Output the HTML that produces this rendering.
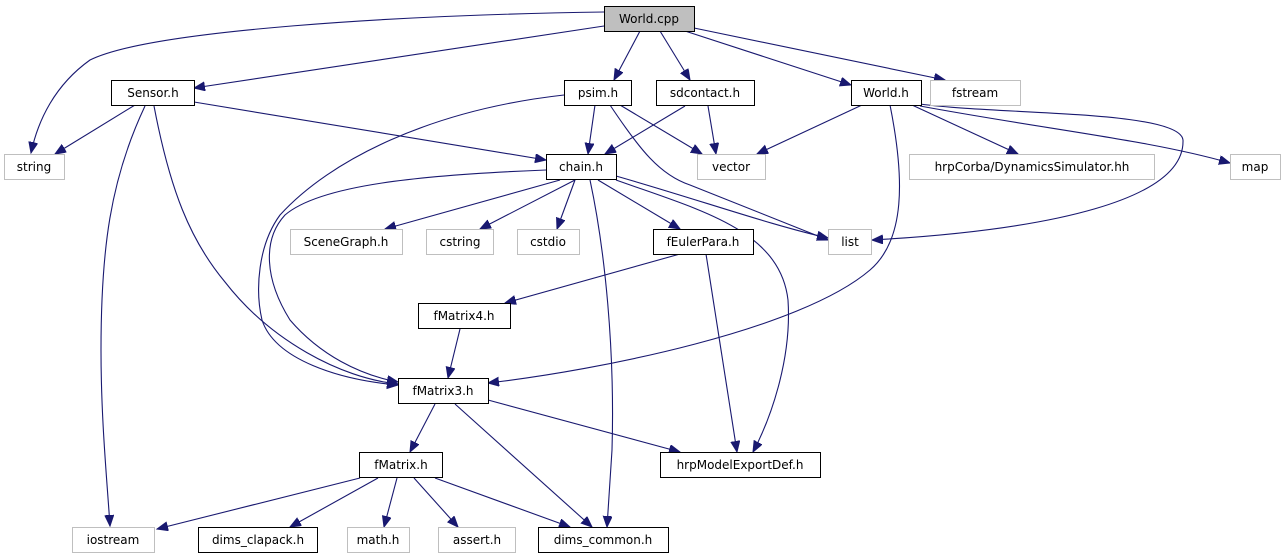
<!DOCTYPE html>
<html><head><meta charset="utf-8"><style>
html,body{margin:0;padding:0;background:#fff;}
svg{display:block;}
text{font-family:"DejaVu Sans","Liberation Sans",sans-serif;font-size:12px;fill:#000;text-anchor:middle;}
.b{fill:#fff;stroke:#000;stroke-width:1}
.g{fill:#fff;stroke:#bfbfbf;stroke-width:1}
.e{fill:none;stroke:#191970;stroke-width:1.1;marker-end:url(#a)}
</style></head><body>
<svg width="1287" height="560" viewBox="0 0 1287 560" xmlns="http://www.w3.org/2000/svg">
<defs><marker id="a" markerUnits="userSpaceOnUse" markerWidth="12" markerHeight="10" refX="11" refY="4.5" orient="auto"><path d="M0,0 L11,4.5 L0,9 z" fill="#191970" stroke="#191970"/></marker></defs>
<g>
<path class="e" d="M604,12 C400,15 150,30 90,60 C55,85 38,120 31,153"/>
<path class="e" d="M604,26 L194,88"/>
<path class="e" d="M640,31 L614,80"/>
<path class="e" d="M660,31 L690,80"/>
<path class="e" d="M685,31 L851,85"/>
<path class="e" d="M694,28 L945,80"/>
<path class="e" d="M135,105 L55,154"/>
<path class="e" d="M194,102 L546,160"/>
<path class="e" d="M145,106 C110,180 101,250 101,350 C101,420 107,480 110,526"/>
<path class="e" d="M154,106 C170,190 190,240 225,282 C270,340 340,378 398,384"/>
<path class="e" d="M595,105 L588,154"/>
<path class="e" d="M620,105 L702,154"/>
<path class="e" d="M610,105 C640,150 660,175 690,185 C740,205 790,225 828,240"/>
<path class="e" d="M564,95 C430,110 330,160 280,215 C258,245 255,290 262,320 C275,360 340,380 398,385"/>
<path class="e" d="M685,106 L605,154"/>
<path class="e" d="M708,106 L716,154"/>
<path class="e" d="M546,170 C420,175 320,185 285,215 C262,240 265,280 290,320 C320,355 360,375 398,382"/>
<path class="e" d="M560,180 L385,229"/>
<path class="e" d="M575,180 L480,229"/>
<path class="e" d="M575,180 L557,229"/>
<path class="e" d="M598,180 L680,229"/>
<path class="e" d="M616,176 C700,200 770,225 828,238"/>
<path class="e" d="M616,180 C700,210 780,230 788,300 C792,360 770,420 753,452"/>
<path class="e" d="M590,180 C605,250 615,350 612,450 L607,527"/>
<path class="e" d="M680,254 L505,303"/>
<path class="e" d="M706,254 L737,452"/>
<path class="e" d="M460,329 L448,378"/>
<path class="e" d="M862,105 L757,154"/>
<path class="e" d="M912,105 L1018,154"/>
<path class="e" d="M920,106 C1050,130 1150,140 1230,163"/>
<path class="e" d="M920,104 C1000,115 1180,110 1183,140 C1185,200 1050,230 872,240"/>
<path class="e" d="M890,105 C905,180 905,240 870,270 C800,330 600,370 488,383"/>
<path class="e" d="M435,404 L410,452"/>
<path class="e" d="M455,404 L592,527"/>
<path class="e" d="M488,400 L680,452"/>
<path class="e" d="M360,478 L157,529"/>
<path class="e" d="M378,478 L290,527"/>
<path class="e" d="M397,478 L384,527"/>
<path class="e" d="M414,478 L458,527"/>
<path class="e" d="M435,478 L570,527"/>
</g>
<g>
<rect x="604.5" y="6.5" width="90" height="25" fill="#bfbfbf" stroke="#000"/><text x="649" y="23">World.cpp</text>
<rect class="b" x="111.5" y="80.5" width="83" height="25"/><text x="153" y="97">Sensor.h</text>
<rect class="b" x="564.5" y="80.5" width="67" height="25"/><text x="598" y="97">psim.h</text>
<rect class="b" x="656.5" y="80.5" width="98" height="25"/><text x="705" y="97">sdcontact.h</text>
<rect class="b" x="851.5" y="80.5" width="70" height="25"/><text x="886" y="97">World.h</text>
<rect class="g" x="930.5" y="80.5" width="90" height="25"/><text x="975" y="97">fstream</text>
<rect class="g" x="4.5" y="154.5" width="60" height="25"/><text x="34" y="171">string</text>
<rect class="b" x="546.5" y="154.5" width="70" height="25"/><text x="581" y="171">chain.h</text>
<rect class="g" x="697.5" y="154.5" width="68" height="25"/><text x="731" y="171">vector</text>
<rect class="g" x="909.5" y="154.5" width="245" height="25"/><text x="1032" y="171">hrpCorba/DynamicsSimulator.hh</text>
<rect class="g" x="1230.5" y="154.5" width="50" height="25"/><text x="1255" y="171">map</text>
<rect class="g" x="290.5" y="229.5" width="112" height="25"/><text x="346" y="246">SceneGraph.h</text>
<rect class="g" x="426.5" y="229.5" width="67" height="25"/><text x="460" y="246">cstring</text>
<rect class="g" x="517.5" y="229.5" width="62" height="25"/><text x="548" y="246">cstdio</text>
<rect class="b" x="653.5" y="229.5" width="100" height="25"/><text x="703" y="246">fEulerPara.h</text>
<rect class="g" x="828.5" y="229.5" width="43" height="25"/><text x="850" y="246">list</text>
<rect class="b" x="418.5" y="303.5" width="92" height="25"/><text x="464" y="320">fMatrix4.h</text>
<rect class="b" x="398.5" y="378.5" width="90" height="25"/><text x="443" y="395">fMatrix3.h</text>
<rect class="b" x="660.5" y="452.5" width="160" height="25"/><text x="740" y="469">hrpModelExportDef.h</text>
<rect class="b" x="359.5" y="452.5" width="83" height="25"/><text x="401" y="469">fMatrix.h</text>
<rect class="g" x="72.5" y="527.5" width="82" height="25"/><text x="113" y="544">iostream</text>
<rect class="b" x="198.5" y="527.5" width="119" height="25"/><text x="258" y="544">dims_clapack.h</text>
<rect class="g" x="347.5" y="527.5" width="62" height="25"/><text x="378" y="544">math.h</text>
<rect class="g" x="438.5" y="527.5" width="77" height="25"/><text x="477" y="544">assert.h</text>
<rect class="b" x="538.5" y="527.5" width="130" height="25"/><text x="603" y="544">dims_common.h</text>
</g>
</svg>
</body></html>
